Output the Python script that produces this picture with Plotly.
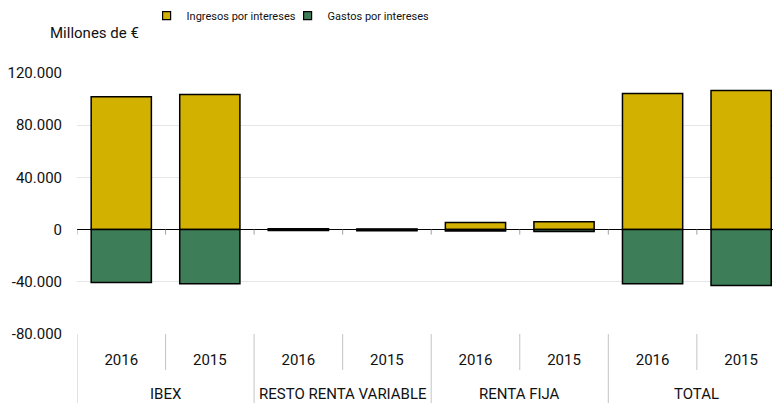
import plotly.graph_objects as go

groups = ["IBEX", "RESTO RENTA VARIABLE", "RENTA FIJA", "TOTAL"]
years = ["2016", "2015"]
ingresos = [101800, 103500, 600, 500, 5500, 6000, 104200, 106500]
gastos = [-40500, -41500, -700, -900, -1000, -1500, -41500, -42800]
y_ticks = [-80000, -40000, 0, 40000, 80000, 120000]
y_tick_labels = ["-80.000", "-40.000", "0", "40.000", "80.000", "120.000"]

year_labels = [y for g in groups for y in years]
pos = list(range(len(year_labels)))
x_max = 7.36

GOLD = "#D3B100"
GREEN = "#3D7D57"
FONT = "Roboto"

fig = go.Figure()
fig.add_trace(go.Bar(x=pos, y=ingresos, name="Ingresos por intereses", width=0.68,
                     showlegend=False,
                     marker=dict(color=GOLD, line=dict(color="black", width=1.5))))
fig.add_trace(go.Bar(x=pos, y=gastos, name="Gastos por intereses", width=0.68,
                     showlegend=False,
                     marker=dict(color=GREEN, line=dict(color="black", width=1.5))))
# legend entries with small square swatches
for name, col in [("Ingresos por intereses", GOLD), ("Gastos por intereses", GREEN)]:
    fig.add_trace(go.Scatter(x=[None], y=[None], mode="markers", name=name,
                             marker=dict(symbol="square", size=8, color=col,
                                         line=dict(color="black", width=1.2))))

shapes = []
n_per = len(years)
for b in range(len(pos) + 1):
    xb = b - 0.5
    if xb > x_max:
        continue
    is_group = (b % n_per == 0)
    shapes.append(dict(type="line", xref="x", yref="paper", ysizemode="pixel", yanchor=0,
                       x0=xb, x1=xb, y0=0, y1=-69 if is_group else -36,
                       line=dict(color="#c4c4c4", width=1)))
    shapes.append(dict(type="line", xref="x", yref="y", ysizemode="pixel", yanchor=0,
                       x0=xb, x1=xb, y0=0, y1=-5,
                       line=dict(color="#a0a0a0", width=1)))

annotations = []
for gi, g in enumerate(groups):
    cx = sum(pos[gi * n_per:(gi + 1) * n_per]) / n_per
    annotations.append(dict(text=g, x=cx, xref="x", y=0, yref="paper", yanchor="middle",
                            yshift=-60, showarrow=False,
                            font=dict(family=FONT, size=15, color="#111")))
annotations.append(dict(text="Millones de €", x=0, xref="paper", xanchor="left", xshift=-29,
                        y=1, yref="paper", yanchor="middle", yshift=40, showarrow=False,
                        font=dict(family=FONT, size=15, color="#111")))

fig.update_layout(
    width=773, height=403,
    margin=dict(l=77, r=0, t=73, b=69),
    barmode="relative",
    plot_bgcolor="white", paper_bgcolor="white",
    font=dict(family=FONT, size=15, color="#111"),
    showlegend=True,
    legend=dict(orientation="h", x=0.1, xanchor="left", y=1.22, yanchor="middle",
                traceorder="normal", font=dict(family=FONT, size=11, color="#111"),
                itemwidth=30, entrywidth=96, bgcolor="rgba(0,0,0,0)"),
    shapes=shapes,
    annotations=annotations,
    xaxis=dict(range=[-0.5, x_max], tickmode="array", tickvals=pos, ticktext=year_labels,
               showgrid=False, zeroline=False, showline=False, ticks="",
               ticklabelstandoff=15, tickfont=dict(family=FONT, size=15, color="#111")),
    yaxis=dict(range=[-80000, 120000], tickmode="array", tickvals=y_ticks,
               ticktext=y_tick_labels, showgrid=True, gridcolor="#e6e6e6", gridwidth=1,
               zeroline=True, zerolinecolor="black", zerolinewidth=1.3, showline=False,
               ticks="", ticklabelstandoff=14,
               tickfont=dict(family=FONT, size=15, color="#111")),
)

fig.write_html("out.html", config={"displayModeBar": False},
               post_script="document.body.style.margin='0';document.body.style.overflow='hidden';")
